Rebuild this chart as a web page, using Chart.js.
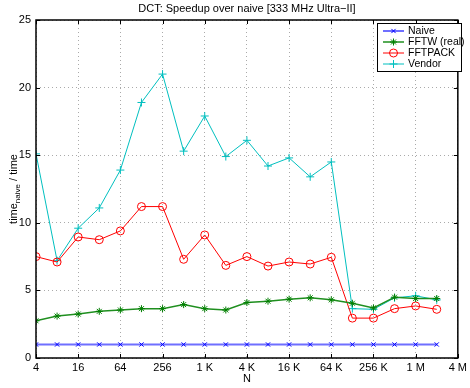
<!DOCTYPE html>
<html>
<head>
<meta charset="utf-8">
<script src="https://cdn.jsdelivr.net/npm/chart.js@4/dist/chart.umd.min.js"></script>
<style>
  html, body { margin: 0; padding: 0; background: #fff; }
  #wrap { width: 470px; height: 388px; }
</style>
</head>
<body>
<div id="wrap"><canvas id="c" width="470" height="388"></canvas></div>
<script>
// data
const sizes = [4, 8, 16, 32, 64, 128, 256, 512, 1024, 2048, 4096, 8192, 16384, 32768,
  65536, 131072, 262144, 524288, 1048576, 2097152];
const naive = [1, 1, 1, 1, 1, 1, 1, 1, 1, 1, 1, 1, 1, 1, 1, 1, 1, 1, 1, 1];
const fftw = [2.75, 3.1, 3.25, 3.45, 3.55, 3.65, 3.65, 3.95, 3.65, 3.55, 4.1, 4.2, 4.35, 4.45,
  4.3, 4.05, 3.7, 4.5, 4.4, 4.4];
const fftpack = [7.5, 7.1, 8.95, 8.75, 9.4, 11.2, 11.2, 7.3, 9.1, 6.85, 7.5, 6.8, 7.1, 6.95,
  7.45, 2.95, 2.95, 3.65, 3.85, 3.6];
const vendor = [15.1, 7.2, 9.6, 11.1, 13.9, 18.9, 21.0, 15.3, 17.9, 14.9, 16.1, 14.2, 14.8, 13.4,
  14.5, 3.65, 3.6, 4.45, 4.6, 4.3];
const xTicks = [4, 16, 64, 256, 1024, 4096, 16384, 65536, 262144, 1048576, 4194304];
const xTickLabels = ['4', '16', '64', '256', '1 K', '4 K', '16 K', '64 K', '256 K', '1 M', '4 M'];
const yTicks = [0, 5, 10, 15, 20, 25];
const seriesNames = ['Naive', 'FFTW (real)', 'FFTPACK', 'Vendor'];
const titleText = 'DCT: Speedup over naive [333 MHz Ultra\u2212II]';

const FONT = '"Liberation Sans", Arial, Helvetica, sans-serif';

function pts(ys) {
  return ys.map((y, i) => ({ x: sizes[i], y: y }));
}

// title, axis box, inward ticks, y title, legend
const decor = {
  id: 'decor',
  afterDraw(chart) {
    const { ctx, chartArea: a, scales } = chart;
    ctx.save();
    ctx.fillStyle = '#000';
    ctx.font = '11px ' + FONT;
    ctx.textAlign = 'center';
    ctx.textBaseline = 'middle';
    ctx.fillText(titleText, (a.left + a.right) / 2, 9);
    ctx.fillText('N', (a.left + a.right) / 2, 379);

    // box
    ctx.strokeStyle = '#000';
    ctx.lineWidth = 1.5;
    ctx.strokeRect(a.left, a.top, a.right - a.left, a.bottom - a.top);

    // tick marks pointing in
    ctx.lineWidth = 1;
    const tl = 4;
    xTicks.forEach(v => {
      const x = Math.round(scales.x.getPixelForValue(v)) + 0.5;
      ctx.beginPath();
      ctx.moveTo(x, a.bottom); ctx.lineTo(x, a.bottom - tl);
      ctx.moveTo(x, a.top); ctx.lineTo(x, a.top + tl);
      ctx.stroke();
    });
    yTicks.forEach(v => {
      const y = Math.round(scales.y.getPixelForValue(v)) + 0.5;
      ctx.beginPath();
      ctx.moveTo(a.left, y); ctx.lineTo(a.left + tl, y);
      ctx.moveTo(a.right, y); ctx.lineTo(a.right - tl, y);
      ctx.stroke();
    });

    // y title with subscript
    ctx.save();
    ctx.translate(14, (a.top + a.bottom) / 2);
    ctx.rotate(-Math.PI / 2);
    ctx.textAlign = 'left';
    ctx.textBaseline = 'middle';
    const p1 = 'time', p3 = ' / time';
    ctx.font = '8px ' + FONT;
    const wSub = ctx.measureText('naive').width;
    ctx.font = '11px ' + FONT;
    const w1 = ctx.measureText(p1).width, w3 = ctx.measureText(p3).width;
    const x0 = -(w1 + wSub + w3) / 2;
    ctx.fillText(p1, x0, 0);
    ctx.font = '8px ' + FONT;
    ctx.fillText('naive', x0 + w1, 4);
    ctx.font = '11px ' + FONT;
    ctx.fillText(p3, x0 + w1 + wSub, 0);
    ctx.restore();

    // legend
    const lx = 377, ly = 23, lw = 84, lh = 48;
    ctx.fillStyle = '#fff';
    ctx.fillRect(lx, ly, lw, lh);
    ctx.strokeStyle = '#000';
    ctx.lineWidth = 1;
    ctx.strokeRect(lx + 0.5, ly + 0.5, lw, lh);
    ctx.font = '10.5px ' + FONT;
    ctx.textAlign = 'left';
    ctx.textBaseline = 'middle';
    chart.data.datasets.forEach((ds, i) => {
      const y = ly + 8 + i * 11;
      ctx.strokeStyle = ds.borderColor;
      ctx.lineWidth = ds.borderWidth;
      ctx.beginPath();
      ctx.moveTo(lx + 6, y); ctx.lineTo(lx + 27, y);
      ctx.stroke();
      ctx.save();
      ctx.strokeStyle = ds.pointBorderColor;
      ctx.fillStyle = ds.pointBackgroundColor;
      ctx.lineWidth = 1;
      Chart.helpers.drawPoint(ctx, {
        pointStyle: ds.pointStyle, radius: ds.pointRadius, rotation: 0,
        borderWidth: 1
      }, lx + 16.5, y);
      ctx.restore();
      ctx.fillStyle = '#000';
      ctx.fillText(ds.label, lx + 31, y);
    });
    ctx.restore();
  }
};

function ds(label, data, color, fill, lineColor, style, r, w) {
  return {
    label: label,
    data: pts(data),
    borderColor: lineColor,
    backgroundColor: 'transparent',
    borderWidth: w,
    pointStyle: style,
    pointRadius: r,
    pointBorderColor: color,
    pointBackgroundColor: fill,
    pointBorderWidth: 1,
    tension: 0
  };
}

new Chart(document.getElementById('c'), {
  type: 'line',
  data: {
    datasets: [
      ds(seriesNames[0], naive, '#0000ff', '#0000ff', '#6f6fff', 'crossRot', 3, 2),
      ds(seriesNames[1], fftw, '#007f00', '#007f00', '#1f8f1f', 'star', 3.5, 1.5),
      ds(seriesNames[2], fftpack, '#ff0000', 'rgba(0,0,0,0)', '#ff0000', 'circle', 4, 1),
      ds(seriesNames[3], vendor, '#00bfbf', '#00bfbf', '#00bfbf', 'cross', 4, 1)
    ]
  },
  options: {
    responsive: false,
    animation: false,
    devicePixelRatio: 1,
    layout: { padding: { top: 20, right: 6, left: 0, bottom: 0 } },
    plugins: {
      legend: { display: false },
      tooltip: { enabled: false }
    },
    scales: {
      x: {
        type: 'logarithmic',
        min: 4,
        max: 4194304,
        afterBuildTicks: s => { s.ticks = xTicks.map(v => ({ value: v })); },
        afterFit: s => { s.height = 30; },
        ticks: {
          autoSkip: false,
          maxRotation: 0,
          padding: 3,
          color: '#000',
          font: { family: FONT, size: 11 },
          callback: (v, i) => xTickLabels[i]
        },
        grid: { drawTicks: false, color: '#aaa', lineWidth: 1 },
        border: { display: false, dash: [1, 3] }
      },
      y: {
        type: 'linear',
        min: 0,
        max: 25,
        afterBuildTicks: s => { s.ticks = yTicks.map(v => ({ value: v })); },
        afterFit: s => { s.width = 36; },
        ticks: {
          padding: 5,
          color: '#000',
          font: { family: FONT, size: 11 }
        },
        grid: { drawTicks: false, color: '#aaa', lineWidth: 1 },
        border: { display: false, dash: [1, 3] }
      }
    }
  },
  plugins: [decor]
});
</script>
</body>
</html>
